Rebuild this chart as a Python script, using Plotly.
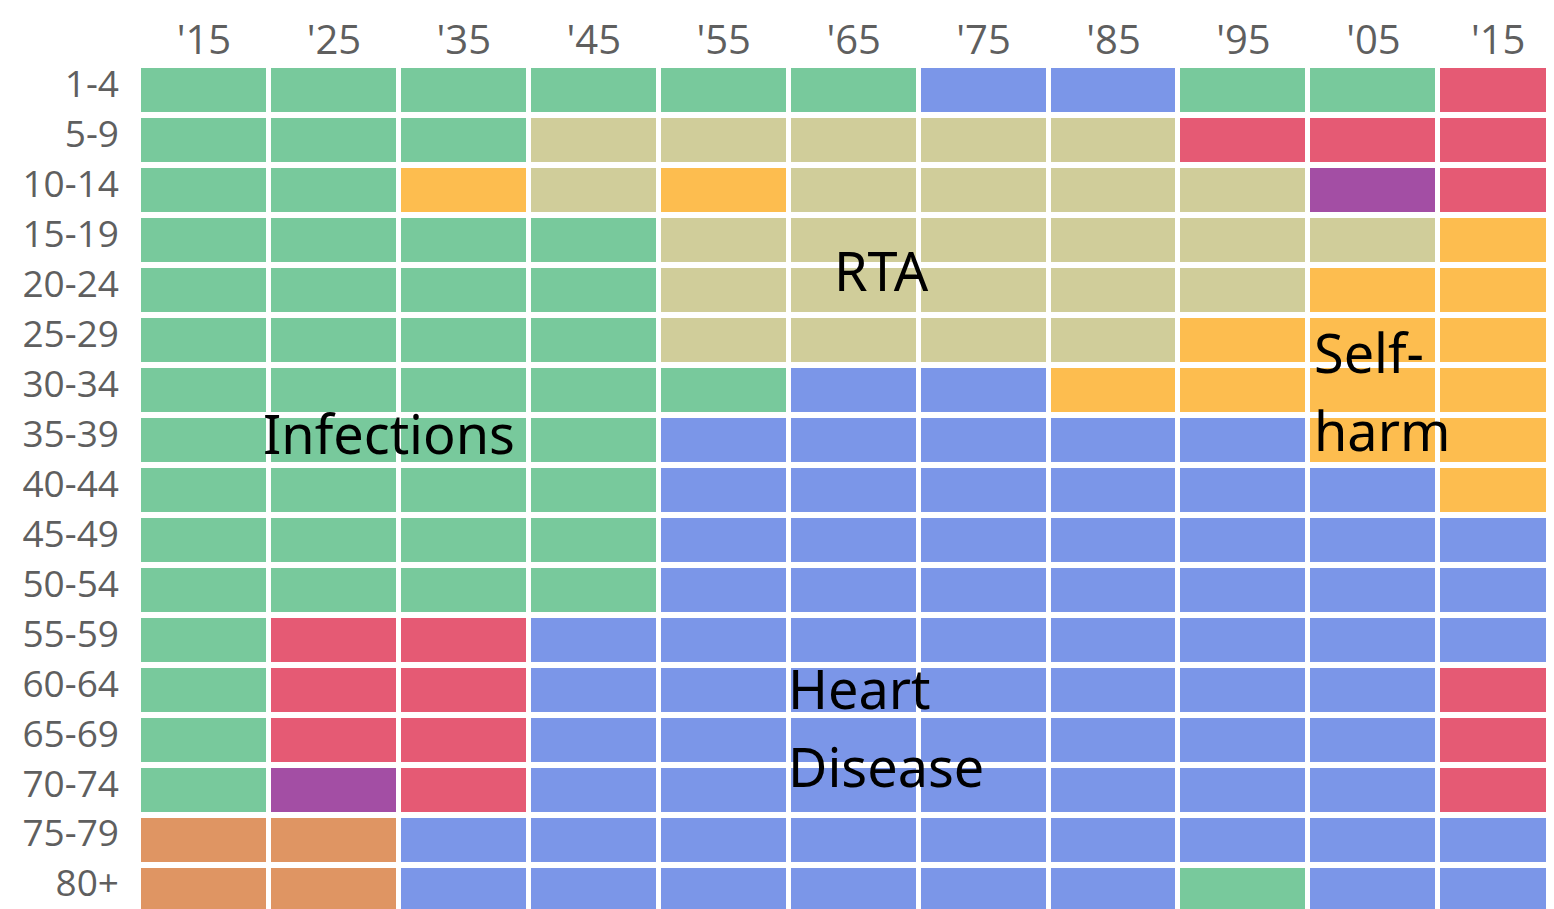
import plotly.graph_objects as go

years = ["'15", "'25", "'35", "'45", "'55", "'65", "'75", "'85", "'95", "'05", "'15 "]
ages = ["1-4", "5-9", "10-14", "15-19", "20-24", "25-29", "30-34", "35-39", "40-44",
        "45-49", "50-54", "55-59", "60-64", "65-69", "70-74", "75-79", "80+"]

# Leading cause of death codes
causes = ["Infections", "Heart Disease", "RTA", "Self-harm", "Cancer", "Other", "Other2"]
cause_colors = ["#78c99c", "#7b96e8", "#d0cd9a", "#fdbd4f", "#e55a74", "#a34ea4", "#df9563"]

G, B, K, O, R, P, N = 0, 1, 2, 3, 4, 5, 6
grid = [
    [G, G, G, G, G, G, B, B, G, G, R],  # 1-4
    [G, G, G, K, K, K, K, K, R, R, R],  # 5-9
    [G, G, O, K, O, K, K, K, K, P, R],  # 10-14
    [G, G, G, G, K, K, K, K, K, K, O],  # 15-19
    [G, G, G, G, K, K, K, K, K, O, O],  # 20-24
    [G, G, G, G, K, K, K, K, O, O, O],  # 25-29
    [G, G, G, G, G, B, B, O, O, O, O],  # 30-34
    [G, G, G, G, B, B, B, B, B, O, O],  # 35-39
    [G, G, G, G, B, B, B, B, B, B, O],  # 40-44
    [G, G, G, G, B, B, B, B, B, B, B],  # 45-49
    [G, G, G, G, B, B, B, B, B, B, B],  # 50-54
    [G, R, R, B, B, B, B, B, B, B, B],  # 55-59
    [G, R, R, B, B, B, B, B, B, B, R],  # 60-64
    [G, R, R, B, B, B, B, B, B, B, R],  # 65-69
    [G, P, R, B, B, B, B, B, B, B, R],  # 70-74
    [N, N, B, B, B, B, B, B, B, B, B],  # 75-79
    [N, N, B, B, B, B, B, B, G, B, B],  # 80+
]

labels = [
    ("Infections", 0.44, 6.86),
    ("RTA", 4.83, 3.61),
    ("Heart", 4.48, 11.97),
    ("Disease", 4.48, 13.53),
    ("Self-", 8.53, 5.25),
    ("harm", 8.53, 6.81),
]

n = len(cause_colors)
colorscale = []
for i, c in enumerate(cause_colors):
    colorscale.append([i / n, c])
    colorscale.append([(i + 1) / n, c])

fig = go.Figure(go.Heatmap(
    z=grid,
    x=list(range(len(years))),
    y=list(range(len(ages))),
    zmin=-0.5, zmax=n - 0.5,
    colorscale=colorscale,
    showscale=False,
    xgap=5, ygap=6,
    hoverinfo="skip",
))

for text, x, y in labels:
    fig.add_annotation(x=x, y=y, xref="x", yref="y", text=text, showarrow=False,
                       xanchor="left", yanchor="middle",
                       font=dict(family="Noto Sans", size=54, color="black"))

fig.update_xaxes(side="top", tickmode="array", tickvals=list(range(len(years))),
                 ticktext=years, range=[-0.5, 10.39], showgrid=False, zeroline=False,
                 showline=False, ticks="", automargin=False, ticklabeloverflow="allow",
                 ticklabelstandoff=2,
                 tickfont=dict(family="Open Sans", size=40, color="#5f5f5f"))
fig.update_yaxes(tickmode="array", tickvals=list(range(len(ages))), ticktext=ages,
                 range=[16.39, -0.5], showgrid=False, zeroline=False, showline=False,
                 ticks="", ticklabelstandoff=19, automargin=False, ticklabeloverflow="allow",
                 ticklabelshift=6,
                 tickfont=dict(family="Open Sans", size=37, color="#5f5f5f"))

fig.update_layout(width=1546, height=901, margin=dict(l=130.5, r=0, t=56.5, b=0),
                  plot_bgcolor="white", paper_bgcolor="white")

fig.write_html("out.html")
